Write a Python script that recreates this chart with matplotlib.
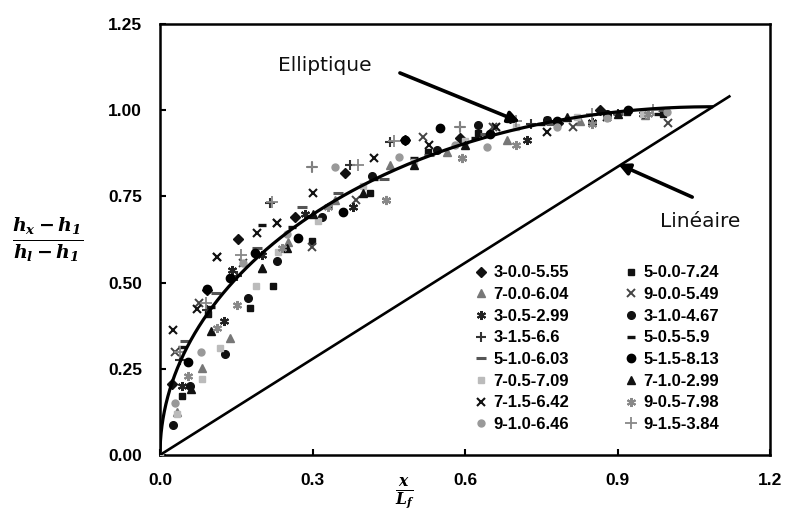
import numpy as np
import matplotlib
matplotlib.use("Agg")
import matplotlib.pyplot as plt

plt.rcParams['font.family'] = ['Liberation Sans', 'DejaVu Sans']
plt.rcParams['mathtext.fontset'] = 'dejavuserif'

# ---- data ----
labels = ["3-0.0-5.55", "5-0.0-7.24", "7-0.0-6.04", "9-0.0-5.49",
          "3-0.5-2.99", "3-1.0-4.67", "3-1.5-6.6", "5-0.5-5.9",
          "5-1.0-6.03", "5-1.5-8.13", "7-0.5-7.09", "7-1.0-2.99",
          "7-1.5-6.42", "9-0.5-7.98", "9-1.0-6.46", "9-1.5-3.84"]

x_3_00 = [0.024, 0.092, 0.154, 0.266, 0.364, 0.482, 0.59, 0.689, 0.783, 0.866, 0.954]
y_3_00 = [0.206, 0.478, 0.626, 0.69, 0.818, 0.914, 0.919, 0.977, 0.963, 1.0, 0.992]
x_5_00 = [0.043, 0.094, 0.177, 0.222, 0.299, 0.413, 0.527, 0.626, 0.761, 0.918, 0.99]
y_5_00 = [0.17, 0.41, 0.426, 0.49, 0.62, 0.76, 0.879, 0.934, 0.972, 0.995, 0.99]
x_7_00 = [0.033, 0.083, 0.138, 0.2, 0.252, 0.344, 0.452, 0.565, 0.683, 0.826, 0.954]
y_7_00 = [0.125, 0.252, 0.34, 0.542, 0.618, 0.74, 0.84, 0.879, 0.914, 0.97, 0.985]
x_9_00 = [0.03, 0.077, 0.112, 0.163, 0.23, 0.299, 0.386, 0.517, 0.655, 0.813, 1.0]
y_9_00 = [0.3, 0.44, 0.574, 0.557, 0.673, 0.603, 0.74, 0.922, 0.95, 0.95, 0.963]
x_3_05 = [0.043, 0.126, 0.141, 0.2, 0.285, 0.38, 0.445, 0.594, 0.722, 0.85, 0.95]
y_3_05 = [0.2, 0.389, 0.537, 0.58, 0.699, 0.72, 0.74, 0.861, 0.914, 0.966, 0.99]
x_3_10 = [0.026, 0.059, 0.128, 0.173, 0.23, 0.319, 0.417, 0.545, 0.626, 0.761, 0.88]
y_3_10 = [0.087, 0.2, 0.293, 0.455, 0.563, 0.69, 0.81, 0.885, 0.957, 0.972, 0.99]
x_3_15 = [0.039, 0.092, 0.151, 0.216, 0.299, 0.374, 0.452, 0.59, 0.73, 0.9]
y_3_15 = [0.276, 0.42, 0.52, 0.731, 0.835, 0.841, 0.908, 0.951, 0.96, 0.99]
x_5_05 = [0.043, 0.1, 0.2, 0.26, 0.33, 0.42, 0.5, 0.62, 0.75, 0.88, 0.98]
y_5_05 = [0.313, 0.43, 0.667, 0.66, 0.72, 0.8, 0.86, 0.92, 0.96, 0.98, 0.99]
x_5_10 = [0.05, 0.11, 0.19, 0.28, 0.35, 0.44, 0.53, 0.64, 0.77, 0.9, 0.99]
y_5_10 = [0.33, 0.47, 0.6, 0.72, 0.76, 0.8, 0.87, 0.93, 0.96, 0.99, 1.0]
x_5_15 = [0.055, 0.092, 0.138, 0.187, 0.272, 0.36, 0.482, 0.551, 0.65, 0.78, 0.92]
y_5_15 = [0.27, 0.48, 0.513, 0.586, 0.629, 0.705, 0.914, 0.948, 0.93, 0.97, 1.0]
x_7_05 = [0.0, 0.033, 0.083, 0.118, 0.189, 0.232, 0.31, 0.40, 0.50, 0.60, 0.70, 0.82, 0.95]
y_7_05 = [0.0, 0.12, 0.22, 0.31, 0.49, 0.589, 0.68, 0.78, 0.85, 0.91, 0.95, 0.98, 0.99]
x_7_10 = [0.06, 0.1, 0.2, 0.25, 0.3, 0.4, 0.5, 0.6, 0.689, 0.8, 0.9]
y_7_10 = [0.19, 0.36, 0.542, 0.6, 0.7, 0.76, 0.84, 0.9, 0.977, 0.98, 0.99]
x_7_15 = [0.026, 0.073, 0.112, 0.191, 0.23, 0.3, 0.42, 0.53, 0.66, 0.761, 0.88]
y_7_15 = [0.362, 0.423, 0.574, 0.644, 0.673, 0.76, 0.86, 0.9, 0.95, 0.937, 0.98]
x_9_05 = [0.055, 0.112, 0.151, 0.24, 0.33, 0.445, 0.594, 0.7, 0.85, 0.96]
y_9_05 = [0.23, 0.368, 0.435, 0.6, 0.72, 0.74, 0.861, 0.9, 0.96, 0.99]
x_9_10 = [0.03, 0.08, 0.163, 0.25, 0.344, 0.47, 0.58, 0.643, 0.78, 0.88, 0.997]
y_9_10 = [0.15, 0.3, 0.557, 0.64, 0.835, 0.864, 0.9, 0.893, 0.95, 0.977, 0.995]
x_9_15 = [0.04, 0.09, 0.16, 0.22, 0.299, 0.39, 0.46, 0.59, 0.7, 0.85, 0.97]
y_9_15 = [0.3, 0.44, 0.58, 0.735, 0.835, 0.84, 0.91, 0.951, 0.97, 0.99, 1.0]

series_x = [x_3_00, x_5_00, x_7_00, x_9_00, x_3_05, x_3_10, x_3_15, x_5_05,
            x_5_10, x_5_15, x_7_05, x_7_10, x_7_15, x_9_05, x_9_10, x_9_15]
series_y = [y_3_00, y_5_00, y_7_00, y_9_00, y_3_05, y_3_10, y_3_15, y_5_05,
            y_5_10, y_5_15, y_7_05, y_7_10, y_7_15, y_9_05, y_9_10, y_9_15]

# model curves
ellipse_a = 1.085   # semi-axis along x (end of elliptic curve)
ellipse_b = 1.01    # semi-axis along y
linear_end_x = 1.12
linear_end_y = 1.04

x_ticks = [0.0, 0.3, 0.6, 0.9, 1.2]
y_ticks = [0.0, 0.25, 0.5, 0.75, 1.0, 1.25]

# ---- styles ----
styles = [
    dict(marker='D', color='#111111', ms=5),
    dict(marker='s', color='#111111', ms=5),
    dict(marker='^', color='#777777', ms=5.5),
    dict(marker='x', color='#444444', ms=6, mew=1.4),
    dict(marker=(6, 2, 0), color='#222222', ms=6.5, mew=1.5),
    dict(marker='o', color='#111111', ms=5.5),
    dict(marker='+', color='#333333', ms=6.5, mew=1.5),
    dict(marker='_', color='#111111', ms=5.5, mew=2.4),
    dict(marker='_', color='#555555', ms=7.5, mew=2.2),
    dict(marker='o', color='#000000', ms=6),
    dict(marker='s', color='#bbbbbb', ms=5),
    dict(marker='^', color='#111111', ms=5.5),
    dict(marker='x', color='#111111', ms=6, mew=1.5),
    dict(marker=(6, 2, 0), color='#888888', ms=6.5, mew=1.5),
    dict(marker='o', color='#999999', ms=5),
    dict(marker='+', color='#888888', ms=8.5, mew=1.3),
]

fig = plt.figure(figsize=(7.9, 5.23), dpi=100)
ax = fig.add_axes([160/790, 1-455/523, 610/790, 431/523])

handles = []
for xs, ys, lab, st in zip(series_x, series_y, labels, styles):
    st = dict(st)
    mk = st.pop('marker'); c = st.pop('color'); ms = st.pop('ms'); mew = st.pop('mew', 1.0)
    h, = ax.plot(xs, ys, linestyle='none', marker=mk, color=c, mec=c, mfc=c,
                 ms=ms, mew=mew, label=lab, zorder=3)
    handles.append(h)

# elliptic curve
t = np.linspace(np.pi, np.pi/2, 300)
ex = ellipse_a + ellipse_a*np.cos(t)
ey = ellipse_b*np.sin(t)
ax.plot(ex, ey, color='black', lw=2.3, zorder=4)
# linear
ax.plot([0, linear_end_x], [0, linear_end_y], color='black', lw=1.9, zorder=4)

ax.set_xlim(0, 1.2)
ax.set_ylim(0, 1.25)
ax.set_xticks(x_ticks)
ax.set_xticklabels([f"{v:.1f}" for v in x_ticks])
ax.set_yticks(y_ticks)
ax.set_yticklabels([f"{v:.2f}" for v in y_ticks])
ax.tick_params(direction='in', length=4, width=1.5, labelsize=12.5, pad=13)
for lbl in ax.get_xticklabels() + ax.get_yticklabels():
    lbl.set_fontweight('bold')
for sp in ax.spines.values():
    sp.set_linewidth(1.8)

# annotations
arrow_kw = dict(arrowstyle='-|>', lw=2.6, color='black', mutation_scale=17,
                shrinkA=0, shrinkB=0)
ax.annotate("", xy=(0.708, 0.966), xytext=(0.472, 1.108), arrowprops=arrow_kw, zorder=6)
ax.annotate("", xy=(0.901, 0.844), xytext=(1.047, 0.748), arrowprops=arrow_kw, zorder=6)
ax.text(0.325, 1.13, "Elliptique", fontsize=14.5, ha='center', va='center',
        family='DejaVu Sans', color='#111111')
ax.text(1.062, 0.677, "Linéaire", fontsize=14.5, ha='center', va='center',
        family='DejaVu Sans', color='#111111')

# legend (row-wise ordering, two columns)
order = list(range(0, 16, 2)) + list(range(1, 16, 2))
leg = ax.legend([handles[i] for i in order], [labels[i] for i in order],
                ncol=2, loc='upper left', bbox_to_anchor=(0.515, 0.44),
                frameon=False, prop={'weight': 'bold', 'size': 12},
                handlelength=0.8, handletextpad=0.35, columnspacing=3.3,
                labelspacing=0.4, borderpad=0, borderaxespad=0)

# axis labels
fig.text(48/790, 1-240/523, r'$\mathbfit{\frac{h_x - h_1}{h_l - h_1}}$',
         fontsize=19.5, ha='center', va='center')
fig.text(405/790, 1-493/523, r'$\mathbfit{\frac{x}{L_f}}$',
         fontsize=16, ha='center', va='center')

fig.savefig("out.png", dpi=100)
